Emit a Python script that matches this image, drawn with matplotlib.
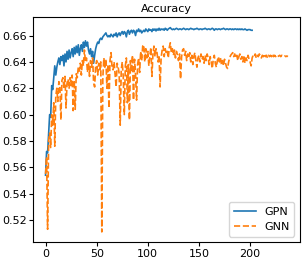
import matplotlib
matplotlib.use('Agg')
import matplotlib.pyplot as plt
import numpy as np

# accuracy per epoch
gpn_acc = [
    0.554, 0.572, 0.571, 0.585, 0.600, 0.598, 0.622, 0.619, 0.628, 0.637,
    0.630, 0.636, 0.640, 0.643, 0.638, 0.644, 0.641, 0.645, 0.637, 0.646,
    0.640, 0.648, 0.642, 0.649, 0.643, 0.647, 0.650, 0.644, 0.651, 0.646,
    0.652, 0.647, 0.653, 0.645, 0.650, 0.653, 0.648, 0.655, 0.651, 0.656,
    0.652, 0.655, 0.649, 0.646, 0.650, 0.644, 0.648, 0.639, 0.645, 0.650,
    0.653, 0.655, 0.654, 0.657, 0.658, 0.657, 0.659, 0.660, 0.661, 0.662,
    0.660, 0.659, 0.660, 0.659, 0.661, 0.660, 0.659, 0.661, 0.660, 0.662,
    0.659, 0.661, 0.662, 0.660, 0.662, 0.663, 0.661, 0.663, 0.662, 0.659,
    0.663, 0.664, 0.661, 0.663, 0.664, 0.662, 0.664, 0.663, 0.660, 0.664,
    0.663, 0.665, 0.663, 0.664, 0.662, 0.663, 0.664, 0.663, 0.665, 0.664,
    0.663, 0.665, 0.664, 0.6645, 0.663, 0.665, 0.664, 0.665, 0.6635, 0.665,
    0.664, 0.6655, 0.664, 0.665, 0.6645, 0.665, 0.664, 0.6655, 0.665, 0.664,
    0.665, 0.6655, 0.666, 0.665, 0.6645, 0.665, 0.6645, 0.665, 0.6655, 0.665,
    0.6645, 0.665, 0.665, 0.6645, 0.665, 0.6655, 0.665, 0.6645, 0.665, 0.665,
    0.6645, 0.665, 0.6655, 0.665, 0.665, 0.6645, 0.665, 0.665, 0.6655, 0.665,
    0.6645, 0.665, 0.665, 0.6645, 0.665, 0.665, 0.6655, 0.665, 0.6645, 0.665,
    0.665, 0.6645, 0.665, 0.6655, 0.665, 0.664, 0.665, 0.665, 0.6645, 0.665,
    0.665, 0.6645, 0.665, 0.665, 0.6655, 0.665, 0.6645, 0.665, 0.665, 0.6645,
    0.665, 0.665, 0.6645, 0.665, 0.6645, 0.665, 0.665, 0.6645, 0.665, 0.6645,
    0.665, 0.6645, 0.665, 0.6645, 0.6645, 0.665, 0.6645, 0.664, 0.6645, 0.6645,
    0.6645, 0.664, 0.664,
]

gnn_acc = [
    0.555, 0.568, 0.513, 0.580, 0.586, 0.575, 0.600, 0.592, 0.609, 0.576,
    0.614, 0.620, 0.610, 0.625, 0.621, 0.596, 0.626, 0.628, 0.620, 0.629,
    0.605, 0.624, 0.627, 0.620, 0.628, 0.622, 0.630, 0.603, 0.626, 0.604,
    0.631, 0.628, 0.636, 0.633, 0.639, 0.630, 0.641, 0.637, 0.649, 0.640,
    0.643, 0.632, 0.639, 0.629, 0.641, 0.636, 0.643, 0.624, 0.621, 0.637,
    0.641, 0.630, 0.639, 0.634, 0.640, 0.511, 0.628, 0.643, 0.636, 0.642,
    0.620, 0.638, 0.605, 0.641, 0.647, 0.636, 0.634, 0.640, 0.630, 0.621,
    0.639, 0.636, 0.631, 0.592, 0.634, 0.640, 0.628, 0.600, 0.637, 0.643,
    0.609, 0.638, 0.596, 0.641, 0.632, 0.645, 0.611, 0.642, 0.630, 0.611,
    0.638, 0.643, 0.632, 0.648, 0.641, 0.652, 0.653, 0.640, 0.650, 0.643,
    0.648, 0.637, 0.645, 0.651, 0.629, 0.646, 0.652, 0.644, 0.650, 0.647,
    0.640, 0.645, 0.621, 0.643, 0.649, 0.652, 0.644, 0.650, 0.646, 0.648,
    0.643, 0.651, 0.6545, 0.647, 0.650, 0.645, 0.649, 0.643, 0.648, 0.645,
    0.641, 0.646, 0.627, 0.644, 0.649, 0.650, 0.645, 0.648, 0.641, 0.646,
    0.643, 0.647, 0.640, 0.645, 0.638, 0.644, 0.647, 0.641, 0.636, 0.643,
    0.645, 0.640, 0.646, 0.642, 0.644, 0.639, 0.645, 0.641, 0.646, 0.643,
    0.638, 0.644, 0.640, 0.635, 0.642, 0.645, 0.639, 0.636, 0.641, 0.644,
    0.640, 0.643, 0.638, 0.641, 0.637, 0.642, 0.639, 0.636, 0.635, 0.640,
    0.643, 0.645, 0.646, 0.647, 0.644, 0.646, 0.643, 0.645, 0.641, 0.644,
    0.646, 0.642, 0.644, 0.640, 0.645, 0.639, 0.643, 0.641, 0.645, 0.642,
    0.640, 0.637, 0.643, 0.645, 0.644, 0.646, 0.643, 0.645, 0.644, 0.646,
    0.645, 0.643, 0.645, 0.644, 0.646, 0.644, 0.645, 0.643, 0.645, 0.644,
    0.645, 0.644, 0.646, 0.644, 0.645, 0.644, 0.645, 0.644, 0.6445, 0.645,
    0.644, 0.645, 0.6445, 0.644, 0.6445, 0.644, 0.6445, 0.644,
]

plt.rcParams['font.size'] = 8
plt.rcParams['xtick.major.size'] = 3
plt.rcParams['ytick.major.size'] = 3
plt.rcParams['xtick.major.pad'] = 2
plt.rcParams['ytick.major.pad'] = 1.5

fig = plt.figure(figsize=(3.04, 2.64), dpi=100)
ax = fig.add_subplot(111)
fig.subplots_adjust(left=0.11, right=0.987, top=0.934, bottom=0.083)

ax.plot(np.arange(len(gpn_acc)), gpn_acc, color='#1f77b4', linewidth=1.2, label='GPN')
ax.plot(np.arange(len(gnn_acc)), gnn_acc, color='#ff7f0e', linewidth=1.2,
        linestyle='--', label='GNN')

ax.set_title('Accuracy', fontsize=8, pad=4)
ax.set_yticks([0.52, 0.54, 0.56, 0.58, 0.60, 0.62, 0.64, 0.66])
ax.legend(loc='lower right', fontsize=8)

fig.savefig('out.png', dpi=100)
